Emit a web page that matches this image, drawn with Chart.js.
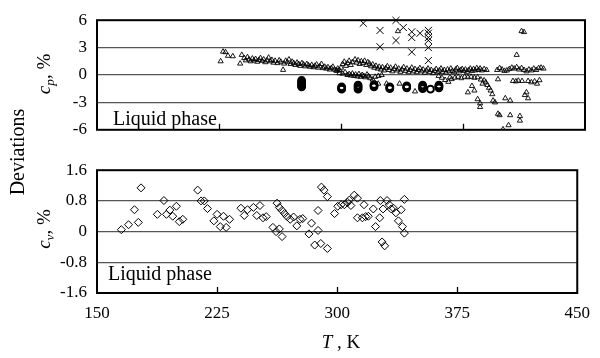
<!DOCTYPE html>
<html><head><meta charset="utf-8">
<script src="https://cdn.jsdelivr.net/npm/chart.js@4/dist/chart.umd.min.js"></script>
<style>
body{margin:0;background:#fff;width:600px;height:358px;overflow:hidden;position:relative;font-family:"Liberation Serif",serif;}
.wrap{position:absolute;left:0;}
.lbl{position:absolute;color:#000;white-space:nowrap;font-family:"Liberation Serif",serif;line-height:1;}
.rot{transform:translate(-50%,-50%) rotate(-90deg);}
.ctr{transform:translate(-50%,-50%);}
sub{font-size:70%;vertical-align:-0.25em;}
</style></head><body>
<div class="wrap" style="top:0;width:600px;height:150px"><canvas id="c1" width="600" height="150"></canvas></div>
<div class="wrap" style="top:150px;width:600px;height:208px"><canvas id="c2" width="600" height="208"></canvas></div>
<div class="lbl rot" style="left:17px;top:152px;font-size:20px;">Deviations</div>
<div class="lbl rot" style="left:45px;top:74px;font-size:19px;"><i>c<sub>p</sub></i>, %</div>
<div class="lbl rot" style="left:45px;top:229px;font-size:19px;"><i>c<sub>v</sub></i>, %</div>
<div class="lbl ctr" style="left:341px;top:341px;font-size:19px;"><i>T</i> , K</div>
<div class="lbl" style="left:113px;top:108px;font-size:20px;">Liquid phase</div>
<div class="lbl" style="left:108px;top:263px;font-size:20px;">Liquid phase</div>
<script>
const xTicks = [150, 225, 300, 375, 450];
const cpTicks = [-6, -3, 0, 3, 6];
const cvTicks = [-1.6, -0.8, 0, 0.8, 1.6];

const cpTriangles = [
[226,1.5],[227.5,2.55],[229,2.5],[230.5,2.1],[233.5,2.05],[238,1.25],[239,2.2],[240.5,1.85],[241.5,1.6],[242.5,1.95],
[243.5,1.7],[244.5,1.5],[245.5,1.8],[246.5,1.6],[247.5,1.75],[248.5,1.45],[249.5,1.65],[250.5,1.85],[251.5,1.55],[252.5,1.7],
[253.5,1.4],[254.5,1.6],[255.5,1.9],[256.5,1.5],[257.5,1.65],[258.5,1.35],[259.5,1.55],[261,1.3],[262,1.6],[263,1.45],
[264.4,0.56],[265,1.25],[266,1.55],[267,1.4],[268,1.7],[269,1.2],[270,1.45],[271,1.3],[272,1.1],[273,1.35],
[274,1.2],[275,1.0],[276,1.3],[277,1.15],[278,0.95],[279,1.2],[280,1.05],[281,0.9],[282,1.1],[283,0.85],
[284,1.0],[285,1.15],[286,0.8],[287,0.95],[288,1.2],[289,0.75],[290,0.9],[291,0.7],[292,0.85],[293,0.6],
[294,0.75],[295,0.9],[296,0.6],[297,0.5],[298,0.7],[299,0.55],[300,0.8],
[301,1.2],[302,1.45],[303,1.0],[304,1.3],[305,1.55],[306,1.1],[307,1.4],[308.6,1.7],[309.5,1.35],[310.5,1.6],
[311.5,1.2],[312.5,1.5],[313.5,1.3],[314.5,1.55],[315.5,1.1],[316.5,1.4],[317.5,1.25],[318.5,0.95],[319.5,1.15],[320.5,0.8],
[321.5,1.0],[322.5,0.7],[323.5,0.9],[324.5,0.6],[325.5,0.85],[326.5,0.5],[327.5,0.75],[328.5,0.95],[329.5,0.55],[330.5,0.8],
[331.5,0.4],[332.5,0.65],[333.5,0.9],[334.5,0.5],[335.5,0.7],[336.5,0.35],[337.5,0.6],[338.5,0.85],[339.5,0.45],[340.5,0.7],
[341.5,0.3],[342.5,0.55],[343.5,0.8],[344.5,0.4],[345.5,0.65],[346.5,0.3],[347.5,0.55],[348.5,0.75],[349.5,0.4],[350.5,0.6],
[351.5,0.25],[352.5,0.5],[353.5,0.7],[354.5,0.35],[355.5,0.55],[356.5,0.2],[357.5,0.45],[358.5,0.65],[359.5,0.3],[360.5,0.5],
[361.5,0.7],[362.5,0.35],[363.5,0.55],[364.5,0.25],[365.5,0.6],[366.5,0.4],[367.5,0.7],[368.5,0.45],[369.5,0.3],[370.5,0.6],
[371.5,0.75],[372.5,0.4],[373.5,0.55],[374.5,0.65],[375.5,0.45],[376.5,0.6],[377.5,0.35],
[297.5,0.45],[299,0.2],[301,0.15],[302.5,0.3],[304,0.0],[305,0.1],[306,-0.05],[307,0.15],[308,-0.1],[309,0.05],
[310,-0.15],[311,0.1],[312,-0.2],[313,0.0],[314,-0.1],[315,-0.25],[316,0.05],[317,-0.15],[318,-0.35],[319.5,-0.5],
[321,-0.2],[323,-0.1],[325,0.0],[322.9,-0.95],[328,-0.95],[336,-0.95],[345.5,-1.8],[335,4.8],
[360,-0.1],[362,-0.3],[364,-0.55],[366,-0.75],[368,-0.45],[370,-0.3],[372,-0.2],[367,-0.25],[374,-0.35],[376,-0.2],
[378,-0.25],[380,-0.2],[382,-0.3],[384,-0.25],[386,-0.5],[387,-0.95],[388,-0.6],[389,-0.8],[390,-1.1],[391,-1.4],
[392,-1.7],[393,-2.1],[380.5,-1.2],[378,-1.9],[382,-1.7],[384,-2.65],[385.5,-3.1],[385.5,-3.5],[393.5,-2.8],[394.7,-3.0],
[396.5,-0.47],[401,-2.55],[404,-2.8],[405.7,-0.66],[407.5,-0.7],[409,-0.62],[411.3,-0.66],[415,-0.66],[417,-0.8],[419,-0.7],
[420.5,-0.95],[422,-0.57],[414,-1.9],[413,-2.2],[415,-2.55],[396.5,-4.25],[397.5,-4.4],[404,-4.4],[410,-4.5],[410,-5.0],
[403,-5.5],[399.6,-5.95],
[378.5,0.55],[379.5,0.7],[380.5,0.45],[381.5,0.65],[382.5,0.5],[383.5,0.75],[384.5,0.55],[385.5,0.7],[386.5,0.5],[388,0.65],
[389.5,0.55],[396,0.55],[397.5,0.75],[399,0.6],[400.5,0.45],[402,0.5],[403.5,0.65],[405,0.8],[406.5,0.7],[408,0.85],
[409.5,0.6],[411,0.75],[412.5,0.55],[414,0.4],[415.5,0.6],[417,0.5],[418.5,0.7],[420,0.55],[421.5,0.75],[423,0.8],
[424.5,0.7],[408,2.2],[411,4.8],[412.5,4.7]
];

const cpCrosses = [
[313.7,5.67],[333.8,5.98],[324,4.88],[338.3,5.2],[343.5,4.73],[343.5,4.1],[348.6,4.57],[353.7,4.88],
[353.7,4.57],[353.7,4.1],[353.7,3.78],[333.8,3.78],[324,3.09],[343.5,2.52],[353.7,3.0],[353.7,1.58]
];

const cpCircles = [
[275.8,-0.6],[275.8,-0.75],[275.8,-0.9],[275.8,-1.05],[275.8,-1.2],[275.8,-1.3],
[300.4,-1.3],[300.4,-1.4],[300.4,-1.5],[300.4,-1.55],
[310.5,-1.1],[310.5,-1.25],[310.5,-1.4],[310.5,-1.55],
[320.3,-1.05],[320.3,-1.15],[320.3,-1.3],
[330,-1.3],[330,-1.4],[330,-1.5],
[340.4,-1.2],[340.4,-1.3],[340.4,-1.4],
[350.2,-1.1],[350.2,-1.25],[350.2,-1.4],[350.2,-1.5],
[355,-1.55],
[360.2,-1.1],[360.2,-1.2],[360.2,-1.3],[360.2,-1.4]
];

const cvDiamonds = [
[165.2,0.05],[169.7,0.18],[173.4,0.57],[175.8,0.24],[177.5,1.14],[187.7,0.45],[191.8,0.81],[193.4,0.45],[195.5,0.56],[197.3,0.4],
[199.6,0.66],[201.4,0.26],[203.6,0.32],[212.9,1.08],[215,0.8],[217,0.8],[219,0.6],[223,0.28],[225,0.45],[227,0.13],
[229,0.4],[230.7,0.11],[232.8,0.32],[239.9,0.61],[242,0.42],[244,0.57],[247.7,0.63],[249.8,0.42],[251.8,0.68],[253.7,0.36],
[255.7,0.39],[259.9,0.11],[261.9,0.0],[262.5,0.74],[263.9,0.63],[263.9,0.07],[265.6,0.55],[265.6,-0.13],[267.2,0.47],[268.8,0.39],
[270.7,0.32],[272.8,0.38],[274.8,0.15],[276.8,0.32],[278.5,0.34],[282.4,-0.06],[284,0.22],[286,-0.35],[288.1,0.55],[288.1,0.03],
[289.8,-0.31],[290.2,1.16],[291.8,1.08],[293.9,0.91],[293.9,-0.44],[298.4,0.47],[300.4,0.66],[302.5,0.7],[304.5,0.7],[306.6,0.76],
[307.6,0.82],[308.6,0.68],[310.7,0.95],[312.7,0.87],[316.8,0.7],[312.7,0.36],[315.8,0.36],[317.8,0.39],[319.5,0.4],[322.6,0.59],
[324,0.13],[326.6,0.36],[327,0.81],[328.7,0.59],[328.1,-0.27],[329.7,-0.37],[331.2,0.81],[332.6,0.7],[333.8,0.59],[335.2,0.61],
[336.7,0.49],[338.3,0.28],[340,0.57],[340.8,0.13],[342,0.84],[342,-0.04]
];

const FONT = {family: '"Liberation Serif", serif', size: 17};
const toXY = a => a.map(p => ({x: p[0], y: p[1]}));

const framePlugin = {
  id: 'frame',
  afterDatasetsDraw(chart) {
    const {ctx, chartArea: a} = chart;
    const xs = chart.scales.x;
    ctx.save();
    ctx.strokeStyle = '#000';
    ctx.lineWidth = 1.3;
    ctx.beginPath();
    xTicks.slice(1, -1).forEach(v => {
      const px = Math.round(xs.getPixelForValue(v)) + 0.5;
      ctx.moveTo(px, a.bottom);
      ctx.lineTo(px, a.bottom - 6);
    });
    ctx.stroke();
    ctx.lineWidth = 2;
    ctx.strokeRect(a.left, a.top, a.right - a.left, a.bottom - a.top);
    ctx.restore();
  }
};

function yScale(ticks, minV, maxV) {
  return {
    min: minV, max: maxV,
    afterBuildTicks: s => { s.ticks = ticks.map(v => ({value: v})); },
    afterFit: s => { s.width = 97; },
    ticks: {font: FONT, color: '#000', padding: 10, callback: v => String(Math.round(v * 10) / 10)},
    grid: {color: c => (c.tick && (c.tick.value === minV || c.tick.value === maxV)) ? 'rgba(0,0,0,0)' : '#555555', lineWidth: 1.2, drawTicks: false},
    border: {display: false}
  };
}

Chart.defaults.animation = false;

new Chart(document.getElementById('c1'), {
  type: 'scatter',
  data: {datasets: [
    {data: toXY(cpTriangles), pointStyle: 'triangle', radius: 3, borderWidth: 0.9, borderColor: '#000', backgroundColor: 'rgba(255,255,255,0)'},
    {data: toXY(cpCrosses), pointStyle: 'crossRot', radius: 5, borderWidth: 1, borderColor: '#000', clip: false},
    {data: toXY(cpCircles), pointStyle: 'circle', radius: 3.4, borderWidth: 2, borderColor: '#000', backgroundColor: 'rgba(255,255,255,0)'}
  ]},
  options: {
    responsive: false,
    layout: {padding: {top: 12, bottom: 11, left: 0, right: 15}},
    plugins: {legend: {display: false}, tooltip: {enabled: false}},
    scales: {
      x: {type: 'linear', min: 150, max: 450, display: false},
      y: yScale(cpTicks, -6, 6)
    }
  },
  plugins: [framePlugin]
});

new Chart(document.getElementById('c2'), {
  type: 'scatter',
  data: {datasets: [
    {data: toXY(cvDiamonds), pointStyle: 'rectRot', radius: 4, borderWidth: 1, borderColor: '#000', backgroundColor: 'rgba(255,255,255,0)'}
  ]},
  options: {
    responsive: false,
    layout: {padding: {top: 16, bottom: 0, left: 0, right: 15}},
    plugins: {legend: {display: false}, tooltip: {enabled: false}},
    scales: {
      x: {
        type: 'linear', min: 150, max: 450,
        afterBuildTicks: s => { s.ticks = xTicks.map(v => ({value: v})); },
        afterFit: s => { s.height = 65; },
        ticks: {font: FONT, color: '#000', padding: 10, maxRotation: 0, autoSkip: false},
        grid: {display: false, drawTicks: false},
        border: {display: false}
      },
      y: yScale(cvTicks, -1.6, 1.6)
    }
  },
  plugins: [framePlugin]
});
</script>
</body></html>
